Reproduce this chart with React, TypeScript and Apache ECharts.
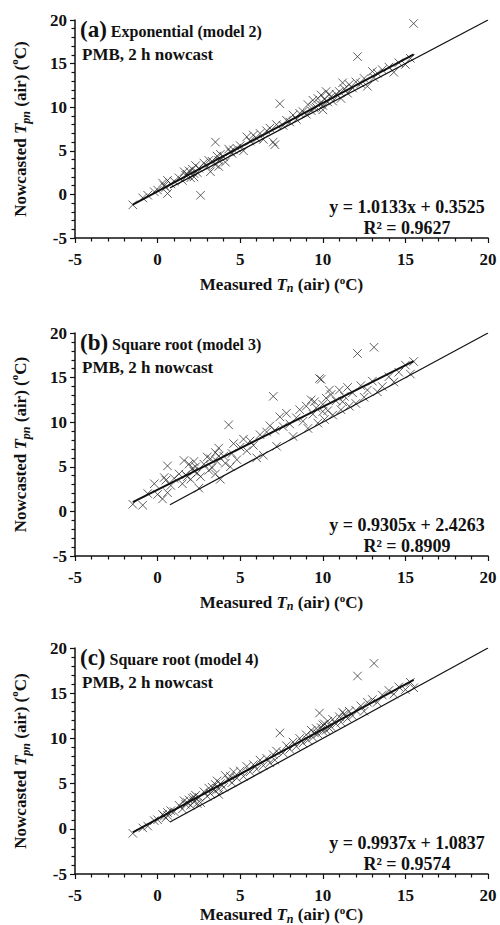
import React, { useEffect, useRef } from "react";
import * as echarts from "echarts";

// Measured Tn (air) values (shared by the three panels)
const measured = [
  -1.5, -0.9, -0.6, -0.2, 0.0, 0.3, 0.5, 0.6, 0.6, 0.8,
  1.0, 1.3, 1.5, 1.6, 1.7, 1.9, 2.0, 2.1, 2.2, 2.3,
  2.4, 2.5, 2.6, 2.8, 3.0, 3.1, 3.2, 3.3, 3.5, 3.6,
  3.7, 3.8, 4.0, 4.1, 4.3, 4.5, 4.6, 4.8, 5.0, 5.2,
  5.4, 5.6, 5.8, 6.0, 6.2, 6.4, 6.6, 6.8, 7.0, 7.1,
  7.2, 7.4, 7.6, 7.8, 8.0, 8.2, 8.4, 8.6, 8.8, 9.0,
  9.1, 9.3, 9.4, 9.6, 9.7, 9.8, 9.9, 10.0, 10.1, 10.2,
  10.3, 10.5, 10.6, 10.8, 11.0, 11.1, 11.3, 11.5, 11.6, 11.8,
  12.0, 12.1, 12.3, 12.5, 12.7, 13.0, 13.1, 13.3, 13.6, 14.0,
  14.3, 14.6, 15.0, 15.3, 15.5,
  2.2, 3.5, 3.7, 9.5, 10.0, 10.4, 11.2, 4.4, 1.8, 0.4,
];

// (a) Exponential (model 2)
const nowcastA = [
  -1.2, -0.4, -0.1, 0.3, 0.5, 1.3, 0.8, 0.1, 1.6, 1.2,
  1.5, 1.9, 1.6, 2.6, 2.2, 2.7, 1.9, 2.9, 2.4, 3.3,
  2.5, 3.0, -0.1, 3.6, 3.2, 3.9, 2.6, 3.8, 3.4, 4.4,
  3.9, 4.6, 4.3, 3.7, 5.2, 4.7, 5.1, 5.3, 5.6, 5.0,
  6.6, 6.1, 6.8, 6.4, 7.0, 6.3, 7.3, 7.6, 6.0, 5.7,
  8.0, 10.4, 7.9, 8.5, 8.3, 9.1, 8.6, 9.3, 9.5, 9.2,
  10.3, 9.6, 10.8, 10.0, 11.0, 10.4, 11.4, 10.2, 10.9, 11.8,
  10.6, 11.2, 10.7, 11.5, 11.8, 11.0, 12.1, 11.6, 12.6, 12.2,
  12.9, 15.8, 12.7, 13.3, 12.4, 14.1, 13.4, 13.9, 14.3, 14.6,
  14.0, 15.1, 14.9, 15.6, 19.6,
  2.0, 6.0, 3.2, 9.9, 9.7, 11.5, 12.8, 4.9, 2.3, 1.0,
];

// (b) Square root (model 3)
const nowcastB = [
  0.8, 0.7, 2.0, 3.1, 1.9, 1.4, 3.5, 2.1, 5.1, 2.9,
  3.7, 4.2, 3.1, 5.7, 4.1, 5.3, 3.6, 4.8, 4.5, 5.0,
  4.3, 2.6, 3.9, 5.3, 6.1, 4.6, 5.9, 4.9, 6.6, 5.6,
  7.1, 3.6, 6.2, 5.4, 9.7, 6.5, 7.6, 5.8, 7.2, 8.1,
  6.8, 7.9, 7.4, 6.0, 8.6, 6.3, 8.9, 9.6, 12.9, 9.1,
  7.3, 10.6, 9.5, 11.0, 9.8, 8.4, 10.5, 11.4, 10.1, 11.8,
  9.3, 12.5, 10.9, 11.6, 9.9, 14.9, 14.8, 12.0, 10.3, 12.7,
  11.3, 13.1, 10.8, 12.4, 13.6, 11.4, 12.9, 13.9, 11.8, 13.3,
  12.1, 17.7, 14.1, 12.8, 13.6, 14.6, 18.4, 13.4, 14.0, 15.1,
  14.5, 15.6, 16.4, 15.4, 16.8,
  5.6, 4.2, 6.2, 12.3, 11.2, 13.6, 12.3, 5.0, 3.9, 3.8,
];

// (c) Square root (model 4)
const nowcastC = [
  -0.5, 0.1, 0.3, 0.9, 1.0, 1.6, 1.2, 1.8, 1.5, 2.0,
  1.9, 2.6, 2.2, 3.1, 2.7, 3.2, 2.6, 3.4, 3.0, 3.7,
  2.8, 3.5, 2.9, 4.1, 3.6, 4.5, 3.9, 4.6, 4.2, 5.3,
  3.8, 5.0, 4.6, 5.9, 5.4, 5.1, 6.3, 5.6, 6.4, 5.8,
  6.9, 6.3, 7.1, 6.6, 7.6, 7.0, 7.8, 7.3, 8.2, 7.6,
  8.6, 10.6, 8.4, 9.2, 8.8, 9.6, 9.1, 10.0, 9.5, 10.4,
  9.8, 10.9, 10.1, 11.1, 10.5, 12.8, 11.2, 10.8, 11.6, 10.9,
  11.9, 11.3, 12.1, 11.6, 12.4, 11.8, 12.7, 12.2, 13.0, 12.5,
  13.1, 16.9, 13.6, 13.0, 14.0, 14.3, 18.3, 14.0, 14.8, 15.3,
  14.9, 15.7, 15.4, 16.2, 15.6,
  3.5, 4.9, 4.4, 10.6, 11.5, 11.1, 12.9, 5.8, 2.9, 1.4,
];

const panelLetters = ["(a)", "(b)", "(c)"];
const panelModels = ["Exponential (model 2)", "Square root (model 3)", "Square root (model 4)"];
const panelSubtitle = "PMB, 2 h nowcast";
const slopes = [1.0133, 0.9305, 0.9937];
const intercepts = [0.3525, 2.4263, 1.0837];
const r2Values = ["0.9627", "0.8909", "0.9574"];
const trendRange = [-1.5, 15.5];
const identityRange = [0.75, 20];
const xTicks = [-5, 0, 5, 10, 15, 20];

const FONT = "'Liberation Serif', 'DejaVu Serif', serif";
const W = 500;
const H = 925;

function makeRich(lh: number) {
  return {
    b: { fontFamily: FONT, fontWeight: "bold", fontSize: 17, color: "#111", lineHeight: lh, verticalAlign: "middle" },
    it: { fontFamily: FONT, fontWeight: "bold", fontStyle: "italic", fontSize: 17, color: "#111", lineHeight: lh, verticalAlign: "middle" },
    sub: { fontFamily: FONT, fontWeight: "bold", fontStyle: "italic", fontSize: 12, color: "#111", lineHeight: lh, verticalAlign: "bottom" },
    sup: { fontFamily: FONT, fontWeight: "bold", fontSize: 11, color: "#111", lineHeight: lh, verticalAlign: "top" },
  };
}

export default function App() {
  const ref = useRef<HTMLDivElement>(null);
  useEffect(() => {
    if (!ref.current) return;
    const chart = echarts.init(ref.current, null, { renderer: "svg", width: W, height: H });
    const grids = [
      { top: 20, bottom: 238, xNameGap: 36 },
      { top: 333, bottom: 556, xNameGap: 36 },
      { top: 648, bottom: 874, xNameGap: 30 },
    ];
    const ySets = [nowcastA, nowcastB, nowcastC];
    const gridOpt: any[] = [];
    const xAxes: any[] = [];
    const yAxes: any[] = [];
    const series: any[] = [];
    const graphics: any[] = [];
    grids.forEach((g, i) => {
      gridOpt.push({
        left: 75, right: 12, top: g.top, bottom: H - g.bottom,
        containLabel: false, outerBoundsMode: "none",
      });
      const axisCommon = {
        min: -5,
        max: 20,
        interval: 5,
        splitLine: { show: false },
        axisLine: { onZero: false, lineStyle: { color: "#111", width: 1.5 } },
        axisTick: { show: true, length: 5, lineStyle: { color: "#111", width: 1.2 } },
        minorTick: { show: true, splitNumber: 5, length: 3.5, lineStyle: { color: "#111", width: 1.2 } },
        axisLabel: { fontFamily: FONT, fontWeight: "bold", fontSize: 17, color: "#111" },
      };
      xAxes.push({
        ...axisCommon,
        type: "value",
        gridIndex: i,
        axisLabel: { ...axisCommon.axisLabel, margin: 13, customValues: xTicks },
        name: "{b|Measured }{it|T}{sub|n}{b| (air) (}{sup|o}{b|C)}",
        nameLocation: "middle",
        nameGap: g.xNameGap,
        nameTextStyle: { rich: makeRich(20) },
      });
      yAxes.push({
        ...axisCommon,
        type: "value",
        gridIndex: i,
        axisLabel: { ...axisCommon.axisLabel, margin: 8 },
        name: "{b|Nowcasted }{it|T}{sub|pn}{b| (air) (}{sup|o}{b|C)}",
        nameLocation: "middle",
        nameGap: 43,
        nameRotate: 90,
        nameTextStyle: { rich: makeRich(24) },
      });
      const pts = measured.map((x, k) => [x, ySets[i][k]]);
      series.push({
        type: "scatter",
        xAxisIndex: i,
        yAxisIndex: i,
        data: pts,
        symbol: "path://M0,0L10,10M10,0L0,10",
        symbolSize: 8.5,
        itemStyle: { color: "rgba(0,0,0,0)", borderColor: "#222", borderWidth: 0.9 },
        z: 3,
      });
      series.push({
        type: "line",
        xAxisIndex: i,
        yAxisIndex: i,
        data: [[identityRange[0], identityRange[0]], [identityRange[1], identityRange[1]]],
        symbol: "none",
        lineStyle: { color: "#111", width: 1.2 },
        z: 4,
      });
      series.push({
        type: "line",
        xAxisIndex: i,
        yAxisIndex: i,
        data: trendRange.map((x) => [x, +(slopes[i] * x + intercepts[i]).toFixed(4)]),
        symbol: "none",
        lineStyle: { color: "#111", width: 2 },
        z: 4,
      });
      graphics.push({
        type: "text",
        left: 80,
        top: g.top - 2,
        style: {
          text: `{big|${panelLetters[i]}}{m| ${panelModels[i]}}`,
          rich: {
            big: { fontFamily: FONT, fontWeight: "bold", fontSize: 23, fill: "#111", lineHeight: 26, verticalAlign: "bottom" },
            m: { fontFamily: FONT, fontWeight: "bold", fontSize: 16, fill: "#111", lineHeight: 26, verticalAlign: "bottom", padding: [0, 0, 2, 0] },
          },
        },
      });
      graphics.push({
        type: "text",
        left: 82,
        top: g.top + 26,
        style: { text: panelSubtitle, fontFamily: FONT, fontWeight: "bold", fontSize: 17, fill: "#111" },
      });
      graphics.push({
        type: "text",
        x: 407,
        y: g.bottom - 31,
        style: {
          text: `y = ${slopes[i].toFixed(4)}x + ${intercepts[i].toFixed(4)}`,
          fontFamily: FONT, fontWeight: "bold", fontSize: 18, fill: "#111",
          align: "center", verticalAlign: "middle",
        },
      });
      graphics.push({
        type: "text",
        x: 407,
        y: g.bottom - 10,
        style: {
          text: `R² = ${r2Values[i]}`,
          fontFamily: FONT, fontWeight: "bold", fontSize: 18, fill: "#111",
          align: "center", verticalAlign: "middle",
        },
      });
    });
    chart.setOption({
      animation: false,
      backgroundColor: "#fff",
      grid: gridOpt,
      xAxis: xAxes,
      yAxis: yAxes,
      series,
      graphic: graphics,
    });
    return () => chart.dispose();
  }, []);
  return <div ref={ref} style={{ position: "absolute", left: 0, top: 0, width: W, height: H }} />;
}
